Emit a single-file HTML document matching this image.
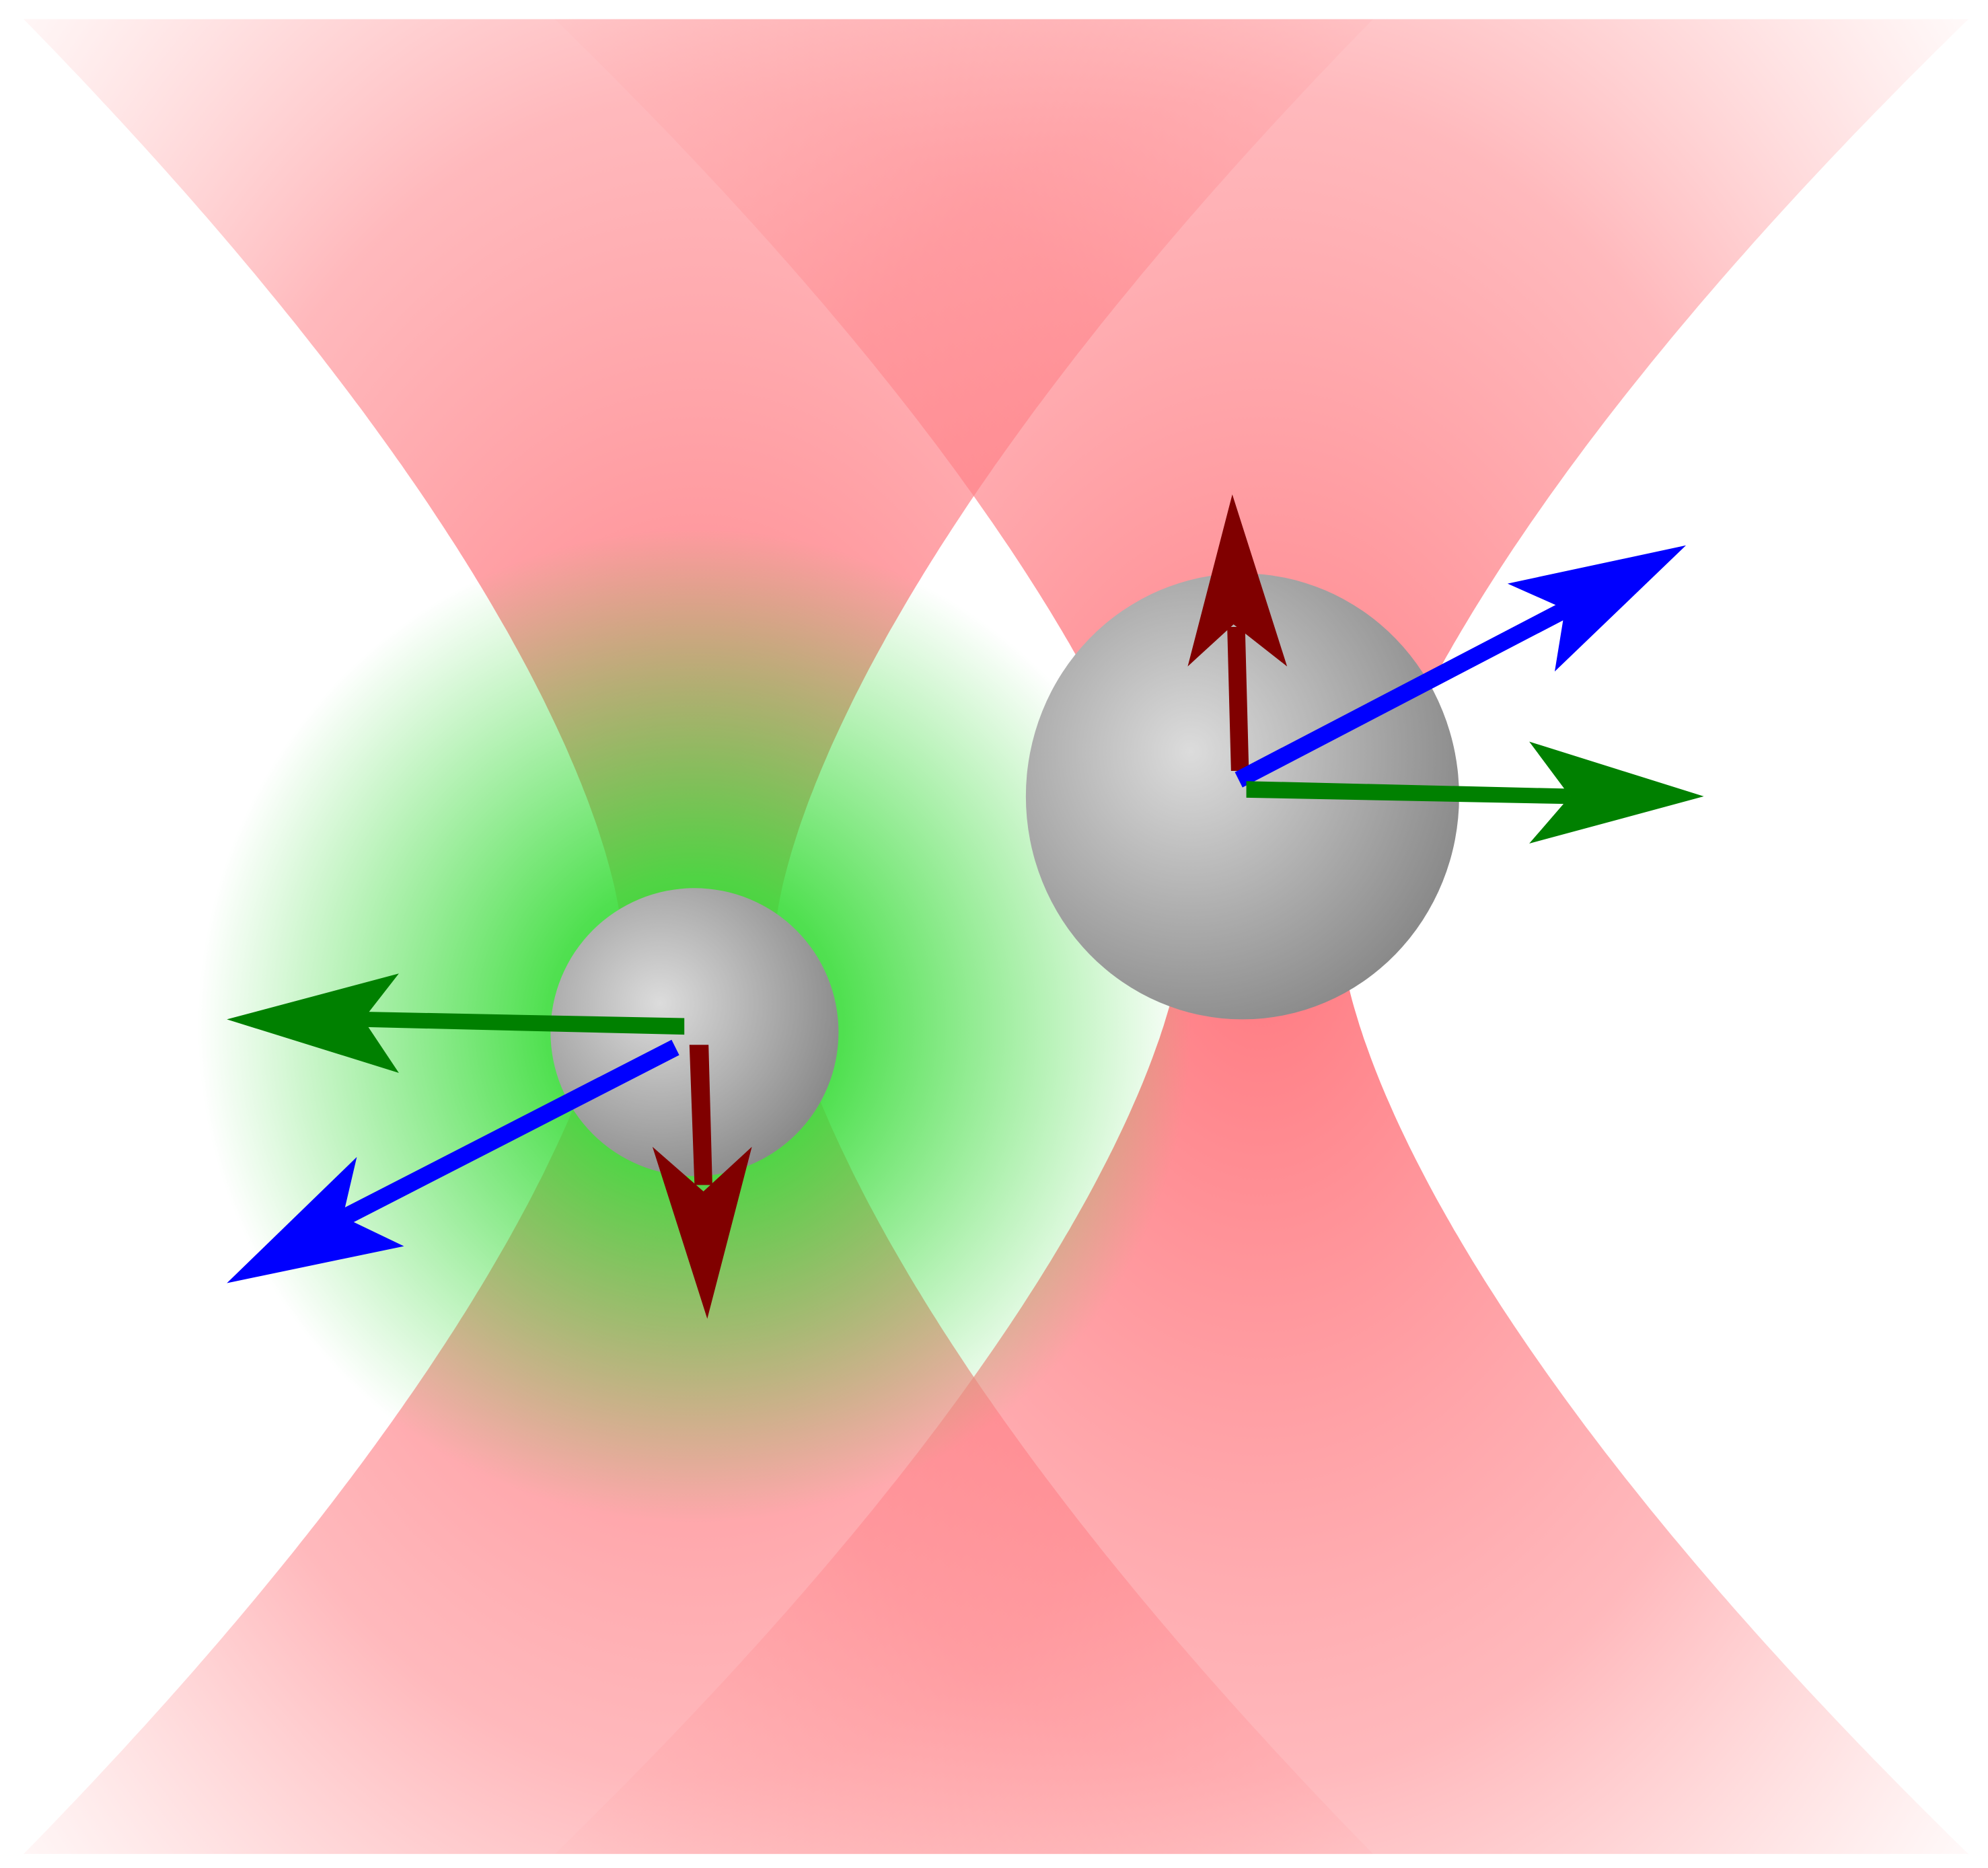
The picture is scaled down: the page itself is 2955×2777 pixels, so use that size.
<!DOCTYPE html>
<html><head><meta charset="utf-8"><style>
html,body{margin:0;padding:0;background:#fff;width:2955px;height:2777px;overflow:hidden}
svg{display:block}
</style></head><body>
<svg width="2955" height="2777" viewBox="0 0 1560 1466" xmlns="http://www.w3.org/2000/svg">
<defs>
<radialGradient id="beamL" cx="548" cy="735" r="1000" gradientUnits="userSpaceOnUse" gradientTransform="translate(548 735) scale(0.75 1.1) translate(-548 -735)">
<stop offset="0" stop-color="#ff6a72" stop-opacity="0.9"/>
<stop offset="0.6" stop-color="#ff8a90" stop-opacity="0.6"/>
<stop offset="1" stop-color="#ffaaaa" stop-opacity="0.05"/>
</radialGradient>
<radialGradient id="beamR" cx="990" cy="735" r="1000" gradientUnits="userSpaceOnUse" gradientTransform="translate(990 735) scale(0.75 1.1) translate(-990 -735)">
<stop offset="0" stop-color="#ff6a72" stop-opacity="0.9"/>
<stop offset="0.6" stop-color="#ff8a90" stop-opacity="0.6"/>
<stop offset="1" stop-color="#ffaaaa" stop-opacity="0.05"/>
</radialGradient>
<radialGradient id="glow" cx="545" cy="805" r="390" gradientUnits="userSpaceOnUse">
<stop offset="0" stop-color="#22dd22" stop-opacity="1"/>
<stop offset="0.3" stop-color="#3ddd3d" stop-opacity="0.9"/>
<stop offset="1" stop-color="#44dd44" stop-opacity="0"/>
</radialGradient>
<radialGradient id="sph" cx="0.38" cy="0.4" r="0.65">
<stop offset="0" stop-color="#dcdcdc"/>
<stop offset="1" stop-color="#8a8a8a"/>
</radialGradient>
</defs>
<path id="beam-left" fill="url(#beamL)"/>
<path id="beam-right" fill="url(#beamR)"/>
<circle cx="545" cy="805" r="390" fill="url(#glow)"/>
<circle cx="545" cy="810" r="113" fill="url(#sph)"/>
<ellipse cx="975" cy="625" rx="170" ry="175" fill="url(#sph)"/>

<g fill="#008000">
<polygon points="537,799 285,794 285,806 537,812"/>
<polygon points="178,800 313,764 285,800 313,842"/>
</g>
<g fill="#0000ff">
<polygon points="527,816 533,828 272,962 266,950"/>
<polygon points="178,1007 280,908 269,955 317,978"/>
</g>
<g fill="#800000">
<polygon points="541,820 556,820 559,930 545,930"/>
<polygon points="555,1035 512,900 552,935 590,900"/>
</g>
<g fill="#800000">
<polygon points="966,605 980,605 977,492 963,492"/>
<polygon points="967,388 932,523 968,490 1010,523"/>
</g>
<g fill="#0000ff">
<polygon points="969,606 975,618 1232,484 1226,472"/>
<polygon points="1323,428 1183,458 1228,478 1220,527"/>
</g>
<g fill="#008000">
<polygon points="978,613 978,626 1232,631 1232,619"/>
<polygon points="1337,625 1200,582 1232,625 1200,662"/>
</g>
</svg>
<script>
function beam(cx, w0, c, yc){
  var y;
  function w(y){return w0 + c*Math.pow(Math.abs(y-yc),1.5);}
  var d='';
  for(y=15;y<=1455;y+=5){d+=(d?' L':'M')+(cx-w(y)).toFixed(1)+','+y;}
  for(y=1455;y>=15;y-=5){d+=' L'+(cx+w(y)).toFixed(1)+','+y;}
  return d+' Z';
}
document.getElementById('beam-left').setAttribute('d', beam(548,60,0.0243,735));
document.getElementById('beam-right').setAttribute('d', beam(990,62,0.0255,735));
</script>
</body></html>
